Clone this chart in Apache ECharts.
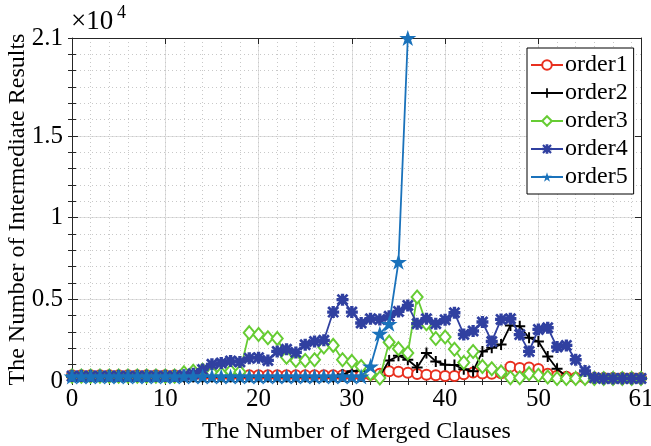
<!DOCTYPE html>
<html><head><meta charset="utf-8">
<script src="https://cdn.jsdelivr.net/npm/echarts@6/dist/echarts.min.js"></script>
<style>html,body{margin:0;padding:0;background:#fff}#c{width:651px;height:446px}</style>
</head><body><div id="c"></div>
<script>
// ---- data ----
const xValues = [0,1,2,3,4,5,6,7,8,9,10,11,12,13,14,15,16,17,18,19,20,21,22,23,24,25,26,27,28,29,30,
  31,32,33,34,35,36,37,38,39,40,41,42,43,44,45,46,47,48,49,50,51,52,53,54,55,56,57,58,59,60,61];
const seriesNames = ['order1','order2','order3','order4','order5'];
const order1 = [350,350,350,350,350,350,350,350,350,350,350,350,350,350,350,350,350,350,350,350,350,
  350,350,350,350,350,350,350,350,350,350,350,380,450,600,560,500,430,380,350,300,300,420,520,460,450,
  480,880,800,830,730,450,320,260,200,180,180,180,180,180,180,180];
const order2 = [250,250,250,250,250,250,250,250,250,250,250,250,250,250,250,250,250,250,250,250,250,
  250,250,250,250,250,250,250,250,400,600,650,500,300,1250,1550,1300,830,1720,1200,1000,980,720,600,
  1800,2030,2230,3400,3350,2650,2420,1500,750,280,180,180,180,180,180,180,180,180];
const order3 = [300,300,300,300,300,300,300,300,300,300,300,300,500,600,650,500,450,600,550,2960,2850,
  2650,2600,1460,1260,1260,1300,2080,2180,1300,1200,890,450,180,2380,1980,1710,5140,3510,2600,2690,
  1940,1130,1810,890,750,550,200,200,450,350,250,150,150,150,150,150,150,150,150,150,150];
const order4 = [300,300,300,300,300,300,300,300,300,300,300,300,350,450,700,1020,1100,1230,1170,1400,
  1430,1260,1810,1940,1750,2220,2420,2490,4220,4980,4220,3550,3810,3770,3960,4260,4630,3510,3810,3510,
  3750,4180,2850,3060,3610,2420,3770,3810,2840,1810,3160,3260,2080,2180,1300,610,200,160,160,160,160,160];
const order5 = [280,280,280,280,280,280,280,280,280,280,280,280,280,280,280,280,280,280,280,280,280,
  280,280,280,280,280,280,280,280,280,280,280,900,2900,3500,7300,21000];
const xTickValues = [0,10,20,30,40,50,61];
const yTickValues = [0,5000,10000,15000,21000];

// ---- style ----
const FONT = 'Liberation Serif';
const AX = '#262626';
const colors = ['#e8301f','#000000','#66cc33','#3040a0','#1a72bb'];
const plusPath = 'path://M4.1,0H5.9V4.1H10V5.9H5.9V10H4.1V5.9H0V4.1H4.1Z';
const asterPath = 'path://M3.6,0H6.4V3.6H10V6.4H6.4V10H3.6V6.4H0V3.6H3.6Z M1.6,0L10,8.4L8.4,10L0,1.6Z M8.4,0L10,1.6L1.6,10L0,8.4Z M3,3H7V7H3Z';
const starPath = 'path://M50,0L61.23,34.55L97.55,34.55L68.17,55.9L79.39,90.45L50,69.1L20.61,90.45L31.83,55.9L2.45,34.55L38.77,34.55Z';
const symbols = ['emptyCircle', plusPath, 'emptyDiamond', asterPath, starPath];
const symbolSizes = [10, 11, [11,13], 12, [17,16]];
const datas = [order1, order2, order3, order4, order5];

const gridPos = {left:72, right:10, top:38, bottom:65, outerBoundsMode:'none', containLabel:false};
const chart = echarts.init(document.getElementById('c'), null, {renderer:'canvas'});

const series = datas.map((arr, i) => ({
  name: seriesNames[i], type:'line', xAxisIndex:0, yAxisIndex:0,
  data: arr.map((v, k) => [xValues[k], v]),
  symbol: symbols[i], symbolSize: symbolSizes[i], showAllSymbol:true,
  lineStyle:{color:colors[i], width:1.8},
  itemStyle:{color: colors[i], borderWidth: (i===0||i===2)?1.6:0},
  emphasis:{disabled:true}, animation:false, z: 2+i, clip:true
}));

chart.setOption({
  animation:false,
  backgroundColor:'#fff',
  grid:[Object.assign({}, gridPos), Object.assign({}, gridPos)],
  xAxis:[
    {gridIndex:0, type:'value', min:0, max:61, position:'bottom',
     axisLine:{show:true, onZero:false, lineStyle:{color:AX, width:1}},
     axisTick:{show:true, inside:true, length:6, customValues:xTickValues, lineStyle:{color:AX}},
     axisLabel:{customValues:xTickValues, fontFamily:FONT, fontSize:25, color:'#000', margin:6},
     splitLine:{show:true, lineStyle:{color:'#e0e0e0', width:1}},
     name:'The Number of Merged Clauses', nameLocation:'middle', nameGap:39, nameMoveOverlap:false,
     nameTextStyle:{fontFamily:FONT, fontSize:24, color:'#000'}},
    {gridIndex:0, type:'value', min:0, max:61, position:'top',
     axisLine:{show:true, onZero:false, lineStyle:{color:AX, width:1}},
     axisTick:{show:true, inside:true, length:6, customValues:xTickValues, lineStyle:{color:AX}},
     axisLabel:{show:false}, splitLine:{show:false}},
    {gridIndex:1, type:'value', min:0, max:61, interval:2, position:'bottom',
     axisLine:{show:false}, axisTick:{show:true, inside:true, length:4, lineStyle:{color:AX}},
     axisLabel:{show:false}, splitLine:{show:true, lineStyle:{color:'#c8c8c8', width:1, type:[1,3]}}},
    {gridIndex:1, type:'value', min:0, max:61, interval:2, position:'top',
     axisLine:{show:false}, axisTick:{show:true, inside:true, length:4, lineStyle:{color:AX}},
     axisLabel:{show:false}, splitLine:{show:false}}
  ],
  yAxis:[
    {gridIndex:0, type:'value', min:0, max:21000, position:'left',
     axisLine:{show:true, onZero:false, lineStyle:{color:AX, width:1}},
     axisTick:{show:true, inside:true, length:6, customValues:yTickValues, lineStyle:{color:AX}},
     axisLabel:{customValues:yTickValues, fontFamily:FONT, fontSize:25, color:'#000', margin:9,
       formatter: v => String(v/10000)},
     splitLine:{show:true, lineStyle:{color:'#e0e0e0', width:1}},
     name:'The Number of Intermediate Results', nameLocation:'middle', nameGap:42, nameMoveOverlap:false,
     nameTextStyle:{fontFamily:FONT, fontSize:24, color:'#000'}},
    {gridIndex:0, type:'value', min:0, max:21000, position:'right',
     axisLine:{show:true, onZero:false, lineStyle:{color:AX, width:1}},
     axisTick:{show:true, inside:true, length:6, customValues:yTickValues, lineStyle:{color:AX}},
     axisLabel:{show:false}, splitLine:{show:false}},
    {gridIndex:1, type:'value', min:0, max:21000, interval:1000, position:'left',
     axisLine:{show:false}, axisTick:{show:true, inside:true, length:4, lineStyle:{color:AX}},
     axisLabel:{show:false}, splitLine:{show:true, lineStyle:{color:'#c8c8c8', width:1, type:[1,3]}}},
    {gridIndex:1, type:'value', min:0, max:21000, interval:1000, position:'right',
     axisLine:{show:false}, axisTick:{show:true, inside:true, length:4, lineStyle:{color:AX}},
     axisLabel:{show:false}, splitLine:{show:false}}
  ],
  legend:{
    orient:'vertical', left:527, top:48, data:seriesNames,
    backgroundColor:'#fff', borderColor:'#000', borderWidth:1, borderRadius:0,
    padding:[5,6,5,3], itemGap:4, itemWidth:32, itemHeight:12,
    textStyle:{fontFamily:FONT, fontSize:24, color:'#000', padding:[0,0,0,-3]},
    selectedMode:false
  },
  graphic:[
    {type:'text', left:71, top:8, style:{text:'×10', fontFamily:FONT, fontSize:27, fill:'#000'}},
    {type:'text', left:117, top:4, style:{text:'4', fontFamily:FONT, fontSize:18, fill:'#000'}}
  ],
  series: series
});
</script></body></html>
